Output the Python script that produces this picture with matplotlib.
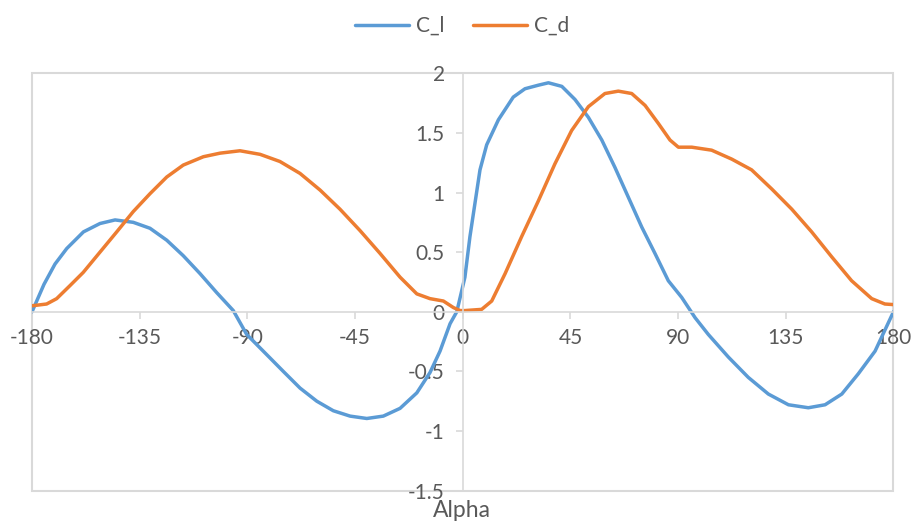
import matplotlib.pyplot as plt
from matplotlib.patches import Rectangle

# lift (C_l) and drag (C_d) coefficients
alpha_l = [-180, -175, -170.4, -165.5, -158.5, -151.6, -145.3, -137.7, -130.7,
           -123.7, -116.8, -109.8, -102.8, -95.9, -90.3, -81.9, -75, -68, -61,
           -54.1, -47.1, -40.1, -33.2, -26.2, -19.2, -13.7, -9.5, -5.3, -2.5,
           0.9, 3, 5.1, 7.2, 10, 14.9, 21.1, 26, 31.6, 35.8, 41.4, 46.9, 52.5,
           58.1, 63.6, 69.2, 74.8, 80.3, 85.9, 91.5, 97.1, 102.6, 111, 119.3,
           127.7, 136.1, 144.4, 151.4, 158.4, 165.3, 172.3, 180]
cl = [0.0, 0.23, 0.40, 0.53, 0.67, 0.74, 0.77, 0.75, 0.70,
      0.60, 0.47, 0.32, 0.16, 0.01, -0.19, -0.36, -0.50, -0.64, -0.75,
      -0.83, -0.875, -0.895, -0.875, -0.81, -0.68, -0.51, -0.33, -0.10, 0.0,
      0.29, 0.63, 0.91, 1.19, 1.40, 1.61, 1.80, 1.87, 1.90, 1.92, 1.89, 1.78, 1.63,
      1.44, 1.21, 0.96, 0.71, 0.49, 0.26, 0.12, -0.05, -0.19, -0.38, -0.55,
      -0.69, -0.78, -0.805, -0.78, -0.69, -0.52, -0.33, 0.0]

alpha_d = [-180, -173.9, -169.7, -164.1, -158.6, -151.6, -144.6, -137.7, -130.7,
           -123.7, -116.8, -108.4, -101.4, -93.1, -84.7, -76.4, -68, -59.6,
           -51.3, -42.9, -34.6, -26.2, -19.2, -13.7, -8.1, -3.9, -1.1, 0.9,
           7.9, 12.1, 17.7, 24.6, 31.6, 38.5, 45.5, 52.5, 59.4, 65, 70.6, 76.2,
           81.7, 86.6, 90.1, 95.7, 104, 112.4, 120.7, 129.1, 137.5, 145.8, 154.2,
           162.5, 170.9, 176.4, 180]
cd = [0.05, 0.065, 0.11, 0.22, 0.33, 0.50, 0.67, 0.84, 0.99,
      1.13, 1.23, 1.30, 1.33, 1.35, 1.32, 1.26, 1.16, 1.02,
      0.86, 0.68, 0.49, 0.29, 0.15, 0.11, 0.09, 0.035, 0.01, 0.01,
      0.02, 0.09, 0.32, 0.63, 0.93, 1.24, 1.52, 1.72, 1.83, 1.85, 1.83, 1.73,
      1.58, 1.44, 1.38, 1.38, 1.355, 1.28, 1.19, 1.03, 0.86, 0.67, 0.46,
      0.26, 0.11, 0.065, 0.06]

xticks = [-180, -135, -90, -45, 0, 45, 90, 135, 180]
yticks = [-1.5, -1, -0.5, 0, 0.5, 1, 1.5, 2]

plt.rcParams['font.family'] = ['Lato', 'DejaVu Sans']
text_col = '#595959'
grid_col = '#d9d9d9'

fig = plt.figure(figsize=(9.15, 5.27), dpi=100)
ax = fig.add_axes([0.035, 0.069, 0.9415, 0.792])

ax.plot(alpha_l, cl, color='#5B9BD5', lw=2.5, label='C_l',
        solid_joinstyle='round', solid_capstyle='round')
ax.plot(alpha_d, cd, color='#ED7D31', lw=2.5, label='C_d',
        solid_joinstyle='round', solid_capstyle='round')

ax.set_xlim(-180, 180)
ax.set_ylim(-1.5, 2)

# axes cross at the origin, frame drawn separately
ax.spines['left'].set_position(('data', 0))
ax.spines['bottom'].set_position(('data', 0))
ax.spines['right'].set_visible(False)
ax.spines['top'].set_visible(False)
for s in ['left', 'bottom']:
    ax.spines[s].set_color(grid_col)
    ax.spines[s].set_linewidth(1.2)
ax.add_patch(Rectangle((0, 0), 1, 1, transform=ax.transAxes, fill=False,
                       edgecolor=grid_col, lw=1.5, clip_on=False, zorder=0))

ax.set_xticks(xticks)
ax.set_xticklabels([str(t) for t in xticks])
ax.set_yticks(yticks)
ax.set_yticklabels([('%g' % t) for t in yticks])
ax.tick_params(axis='both', direction='out', length=5, width=1.2,
               color=grid_col, labelcolor=text_col, labelsize=15)
ax.tick_params(axis='x', pad=7)
ax.tick_params(axis='y', pad=8)

fig.text(0.505, 0.031, 'Alpha', ha='center', va='center', fontsize=16.5,
         color=text_col)

fig.legend(loc='upper center', ncol=2, frameon=False, fontsize=15,
           bbox_to_anchor=(0.505, 1.005), handlelength=2.6, handletextpad=0.3,
           columnspacing=1.4, labelcolor=text_col)

fig.savefig('out.png', dpi=100)
